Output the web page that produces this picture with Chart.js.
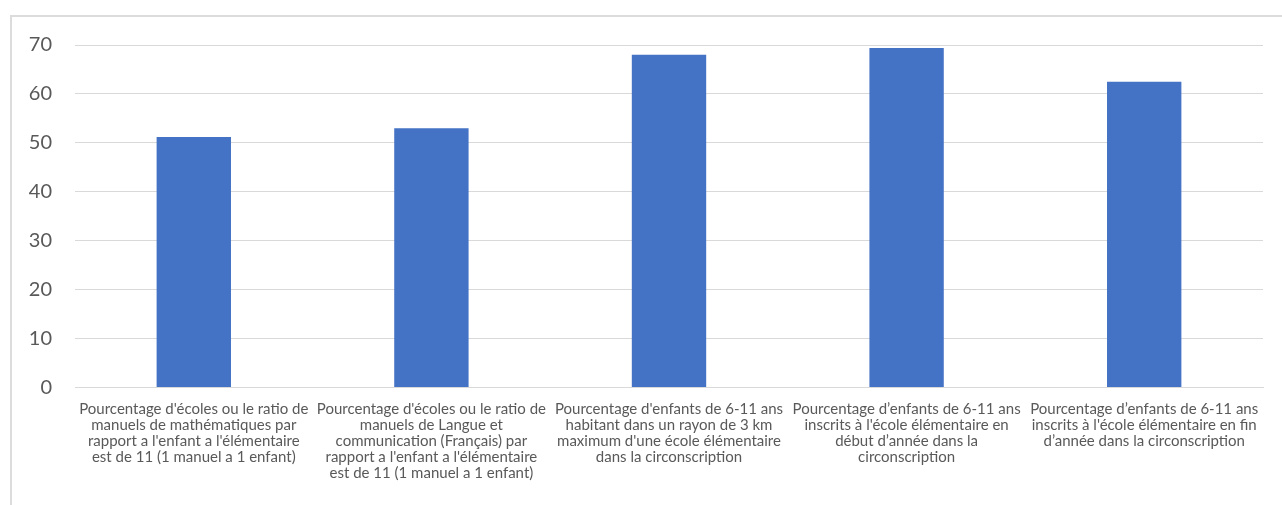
<!DOCTYPE html>
<html>
<head>
<meta charset="utf-8">
<script src="https://cdn.jsdelivr.net/npm/chart.js@4"></script>
<style>
  html, body { margin: 0; padding: 0; background: #fff; }
  body { width: 1282px; height: 505px; position: relative; overflow: hidden; }
  .frame { position: absolute; left: 10px; top: 15px; width: 1300px; height: 600px;
           border-left: 2px solid #dcdcdc; border-top: 2px solid #dcdcdc; }
  .wrap { position: absolute; left: 0; top: 0; width: 1282px; height: 505px; }
</style>
</head>
<body>
<div class="frame"></div>
<div class="wrap"><canvas id="barChart" width="1282" height="505"></canvas></div>
<script>
// categories, already wrapped the way the original shows them
const categories = [
  ["Pourcentage d'écoles ou le ratio de", "manuels de mathématiques par", "rapport a l'enfant a l'élémentaire", "est de 11 (1 manuel a 1 enfant)"],
  ["Pourcentage d'écoles ou le ratio de", "manuels de Langue et", "communication (Français) par", "rapport a l'enfant a l'élémentaire", "est de 11 (1 manuel a 1 enfant)"],
  ["Pourcentage d'enfants de 6-11 ans", "habitant dans un rayon de 3 km", "maximum d'une école élémentaire", "dans la circonscription"],
  ["Pourcentage d’enfants de 6-11 ans", "inscrits à l'école élémentaire en", "début d’année dans la", "circonscription"],
  ["Pourcentage d’enfants de 6-11 ans", "inscrits à l'école élémentaire en fin", "d’année dans la circonscription"]
];
const values = [51.2, 53.0, 68.0, 69.4, 62.5];
const yTicks = [0, 10, 20, 30, 40, 50, 60, 70];

const ctx = document.getElementById('barChart').getContext('2d');
new Chart(ctx, {
  type: 'bar',
  data: {
    labels: categories,
    datasets: [{
      data: values,
      backgroundColor: '#4472c4',
      barPercentage: 1,
      categoryPercentage: 0.313
    }]
  },
  options: {
    responsive: false,
    animation: false,
    layout: { padding: { top: 45, left: 0, right: 19, bottom: 0 } },
    plugins: { legend: { display: false }, tooltip: { enabled: false } },
    scales: {
      x: {
        grid: { display: false, drawTicks: false },
        border: { display: true, color: '#d9d9d9', width: 1 },
        ticks: {
          color: '#595959',
          font: { family: 'Lato', size: 15, lineHeight: 1.0667 },
          maxRotation: 0, autoSkip: false, padding: 14
        },
        afterFit: s => { s.height = 117.5; }
      },
      y: {
        min: yTicks[0],
        max: yTicks[yTicks.length - 1],
        afterBuildTicks: s => { s.ticks = yTicks.map(v => ({ value: v })); },
        grid: { color: '#d9d9d9', lineWidth: 1, drawTicks: false },
        border: { display: false },
        ticks: { color: '#595959', font: { family: 'Lato', size: 20 }, padding: 23 },
        afterFit: s => { s.width = 75; }
      }
    }
  }
});
</script>
</body>
</html>
